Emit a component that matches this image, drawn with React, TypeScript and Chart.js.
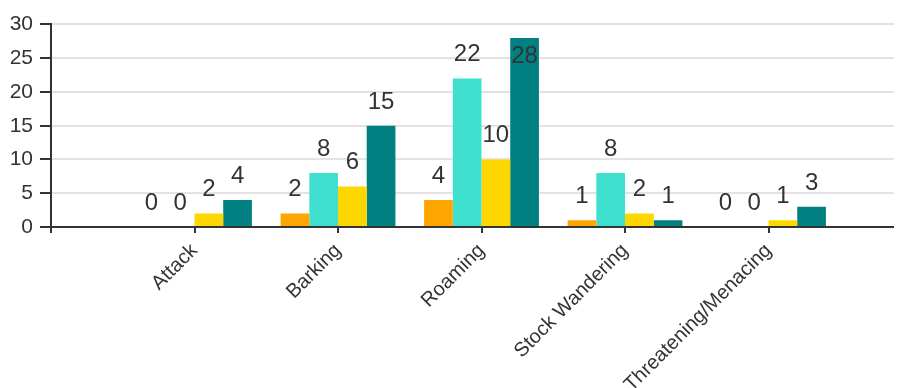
import React, { useEffect, useRef } from 'react';
import { Chart, registerables } from 'chart.js';

Chart.register(...registerables);

const categories = ['Attack', 'Barking', 'Roaming', 'Stock Wandering', 'Threatening/Menacing'];
const seriesOrange = [0, 2, 4, 1, 0];
const seriesTurquoise = [0, 8, 22, 8, 0];
const seriesGold = [2, 6, 10, 2, 1];
const seriesTeal = [4, 15, 28, 1, 3];
const yMin = 0;
const yMax = 30;
const yStep = 5;

const FONT = '"Liberation Sans", Arial, sans-serif';

const valueLabels = {
  id: 'valueLabels',
  afterDatasetsDraw(chart: any) {
    const ctx = chart.ctx;
    ctx.save();
    ctx.font = `24px ${FONT}`;
    ctx.fillStyle = '#333333';
    ctx.textAlign = 'center';
    ctx.textBaseline = 'alphabetic';
    chart.data.datasets.forEach((ds: any, di: number) => {
      const meta = chart.getDatasetMeta(di);
      meta.data.forEach((el: any, i: number) => {
        const v = ds.data[i];
        if (v === null || v === undefined) return;
        let y = el.y - 17;
        if (y - 17 < chart.chartArea.top) y = el.y + 25;
        ctx.fillText(String(v), el.x, y);
      });
    });
    ctx.restore();
  },
};

export default function App() {
  const ref = useRef<HTMLCanvasElement | null>(null);

  useEffect(() => {
    if (!ref.current) return;
    const labels = ['', ...categories, ''];
    const pad = (arr: number[]) => [null, ...arr, null];
    const chart = new Chart(ref.current, {
      type: 'bar',
      data: {
        labels,
        datasets: [
          { label: 'Series 1', data: pad(seriesOrange) as any, backgroundColor: '#FFA500' },
          { label: 'Series 2', data: pad(seriesTurquoise) as any, backgroundColor: '#40E0D0' },
          { label: 'Series 3', data: pad(seriesGold) as any, backgroundColor: '#FFD700' },
          { label: 'Series 4', data: pad(seriesTeal) as any, backgroundColor: '#008080' },
        ],
      },
      options: {
        responsive: false,
        animation: false,
        devicePixelRatio: 1,
        categoryPercentage: 0.8,
        barPercentage: 1.0,
        layout: { padding: { top: 16, left: 0, right: 0, bottom: 0 } },
        plugins: {
          legend: { display: false },
          tooltip: { enabled: false },
        },
        scales: {
          x: {
            offset: false,
            grid: {
              offset: false,
              drawOnChartArea: false,
              tickLength: 6,
              tickColor: '#333333',
              lineWidth: 2,
            },
            border: { color: '#333333', width: 2 },
            ticks: {
              autoSkip: false,
              maxRotation: 45,
              minRotation: 45,
              padding: 6,
              color: '#333333',
              font: { size: 20, family: FONT },
            },
            afterFit: (scale: any) => {
              scale.height = 161;
            },
          },
          y: {
            min: yMin,
            max: yMax,
            ticks: {
              stepSize: yStep,
              padding: 7,
              color: '#333333',
              font: { size: 21, family: FONT, lineHeight: 0.9 },
            },
            grid: {
              color: '#e3e3e3',
              lineWidth: 2,
              tickColor: '#333333',
              tickLength: 11,
            },
            border: { color: '#333333', width: 2 },
            afterFit: (scale: any) => {
              scale.width = 43;
            },
          },
        },
      },
      plugins: [valueLabels],
    });
    return () => chart.destroy();
  }, []);

  return (
    <div style={{ width: 894, height: 380, overflow: 'hidden' }}>
      <canvas ref={ref} width={927} height={380} style={{ display: 'block' }} />
    </div>
  );
}
